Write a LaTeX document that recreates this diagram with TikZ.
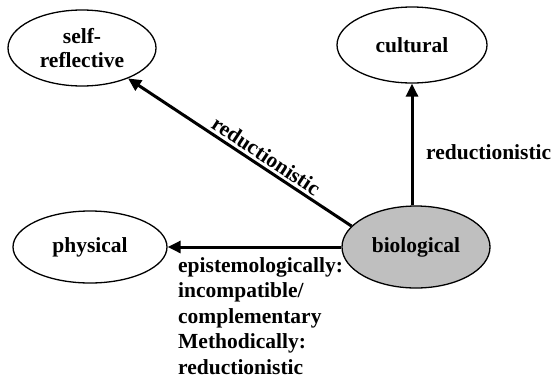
\documentclass[tikz,border=0pt]{standalone}
\usepackage{fontspec}
\setmainfont{Liberation Serif}
\usetikzlibrary{arrows.meta,shapes.geometric}
\begin{document}
\begin{tikzpicture}[x=1pt,y=-1pt,
  txt/.style={font=\fontsize{21.5}{24.5}\selectfont\bfseries},
  field/.style={ellipse,draw,line width=1.3pt,inner sep=0pt,txt,align=center},
  link/.style={line width=3pt,-{Triangle[length=13pt,width=12pt]}}]
  \useasboundingbox (0,0) rectangle (556,386);
  \node[field,minimum width=148pt,minimum height=76pt] (self) at (82,48) {self-\\reflective};
  \node[field,minimum width=150pt,minimum height=76pt] (cult) at (412,45) {cultural};
  \node[field,minimum width=154pt,minimum height=72pt] (phys) at (90,247) {physical};
  \node[field,fill=black!25,minimum width=148pt,minimum height=82pt] (bio) at (416,247) {biological};
  % connectors
  \draw[link] (bio.162) -- node[sloped,anchor=south,pos=0.41,txt,inner sep=2.5pt] (lab1) {reductionistic} (self);
  \draw[link] (bio.north -| cult.south) -- (cult.south);
  \draw[link] (bio.west) -- (phys.east);
  % labels
  \node[txt,anchor=west,inner sep=0pt] (lab2) at (426,152) {reductionistic};
  \node[txt,anchor=north west,inner sep=0pt,align=left,
        font=\fontsize{21.5}{25.5}\selectfont\bfseries] (lab3) at (178,257)
    {epistemologically:\\incompatible/\\complementary\\Methodically:\\reductionistic};
\end{tikzpicture}
\end{document}
